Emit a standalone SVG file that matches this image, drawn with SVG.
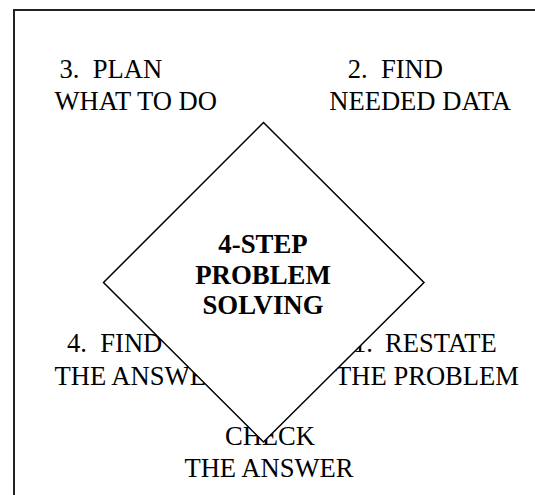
<svg xmlns="http://www.w3.org/2000/svg" width="535" height="495" viewBox="0 0 535 495">
<style>
  .lbl { font-family: "Liberation Serif", "Times New Roman", serif; font-size: 26.6px; fill: #000; }
  .end { text-anchor: end; }
  .mid { text-anchor: middle; }
  .ctr { font-family: "Liberation Serif", "Times New Roman", serif; font-size: 26.8px; font-weight: bold; fill: #000; text-anchor: middle; }
  .frame { fill: none; stroke: #222; stroke-width: 2; }
  .diamond { fill: #fff; stroke: #000; stroke-width: 1.5; }
</style>
<rect x="0" y="0" width="535" height="495" fill="#fff"/>
<path class="frame" d="M14,495 L14,10 L535,10"/>
<g id="step3">
  <text class="lbl" x="59.5" y="78" xml:space="preserve">3.  PLAN</text>
  <text class="lbl" x="54.5" y="110">WHAT TO DO</text>
</g>
<g id="step2">
  <text class="lbl end" x="443" y="78" xml:space="preserve">2.  FIND</text>
  <text class="lbl end" x="511" y="110">NEEDED DATA</text>
</g>
<g id="step4">
  <text class="lbl" x="67" y="352" xml:space="preserve">4.  FIND</text>
  <text class="lbl" x="54.5" y="384.5">THE ANSWER</text>
</g>
<g id="step5">
  <text class="lbl mid" x="270" y="445">CHECK</text>
  <text class="lbl mid" x="269" y="476.5">THE ANSWER</text>
</g>
<g id="step1">
  <text class="lbl" y="352" xml:space="preserve"><tspan x="353">1.</tspan><tspan x="385">RESTATE</tspan></text>
  <text class="lbl end" x="519" y="384.5">THE PROBLEM</text>
</g>
<g id="center">
  <polygon class="diamond" points="263.5,122.5 424,282.5 263.5,442 103.5,282.5"/>
  <text class="ctr" x="263" y="253">4-STEP</text>
  <text class="ctr" x="263" y="284">PROBLEM</text>
  <text class="ctr" x="263" y="314">SOLVING</text>
</g>
<g id="connectors"/>
</svg>
